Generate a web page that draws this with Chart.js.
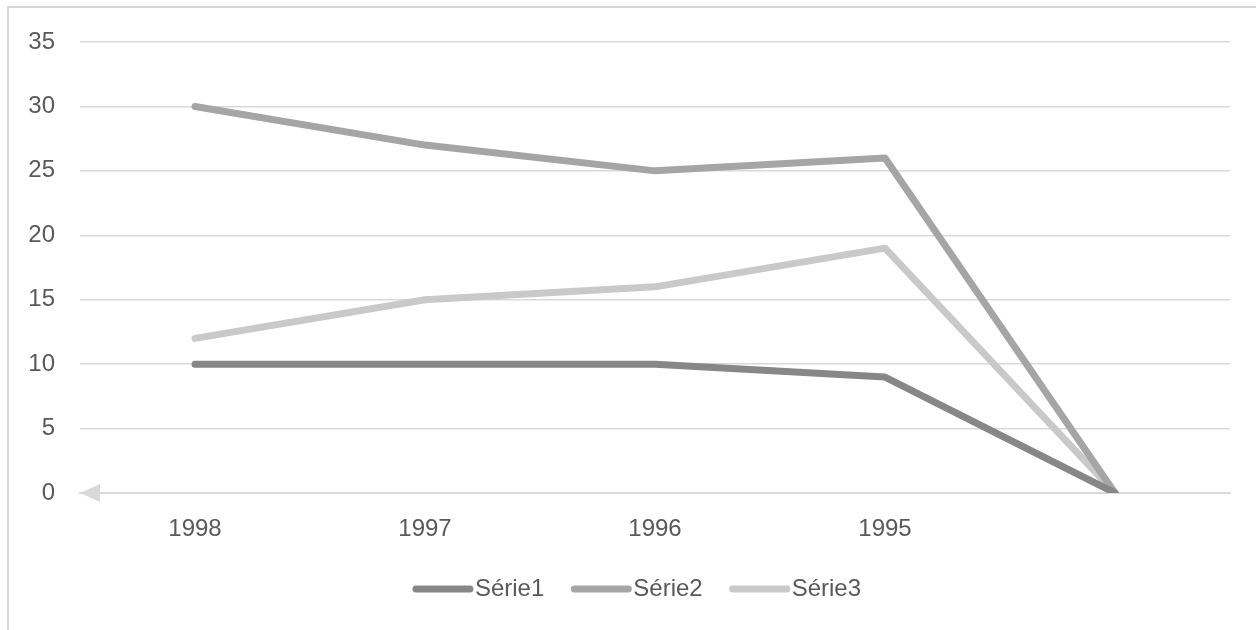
<!DOCTYPE html>
<html>
<head>
<meta charset="utf-8">
<script src="https://cdn.jsdelivr.net/npm/chart.js@4/dist/chart.umd.min.js"></script>
<style>
  html, body { margin: 0; padding: 0; background: #ffffff; overflow: hidden; }
  #wrap { position: relative; width: 1256px; height: 630px; }
</style>
</head>
<body>
<div id="wrap"><canvas id="chart" width="1256" height="630"></canvas></div>
<script>
// Categories (the last slot is unlabeled, every series falls to 0 there)
const categories = ['1998', '1997', '1996', '1995', ''];

// Series values
const serie1 = [10, 10, 10, 9, 0];
const serie2 = [30, 27, 25, 26, 0];
const serie3 = [12, 15, 16, 19, 0];

const seriesNames = ['Série1', 'Série2', 'Série3'];
const seriesColors = ['#878787', '#a5a5a5', '#c9c9c9'];

// Y axis range
const yMin = 0;
const yMax = 35;
const yStep = 5;

const FONT = "'Liberation Sans', Arial, sans-serif";
const TEXT_COLOR = '#595959';
const LINE_GREY = '#d9d9d9';

// Frame around the chart (left and top edges are visible)
const framePlugin = {
  id: 'frame',
  beforeDraw(chart) {
    const ctx = chart.ctx;
    ctx.save();
    ctx.strokeStyle = LINE_GREY;
    ctx.lineWidth = 2;
    ctx.beginPath();
    ctx.moveTo(8, chart.height + 5);
    ctx.lineTo(8, 7);
    ctx.lineTo(chart.width + 5, 7);
    ctx.stroke();
    ctx.restore();
  }
};

// Arrow head at the left end of the category axis
const arrowPlugin = {
  id: 'axisArrow',
  afterDatasetsDraw(chart) {
    const ctx = chart.ctx;
    const y = chart.scales.y.getPixelForValue(0);
    const x = chart.chartArea.left;
    ctx.save();
    ctx.fillStyle = LINE_GREY;
    ctx.beginPath();
    ctx.moveTo(x, y);
    ctx.lineTo(x + 20, y - 9);
    ctx.lineTo(x + 20, y + 9);
    ctx.closePath();
    ctx.fill();
    ctx.restore();
  }
};

// Legend drawn below the axis: a thick line sample followed by the series name
const legendPlugin = {
  id: 'lineLegend',
  afterDraw(chart) {
    const ctx = chart.ctx;
    const sample = 60, gap = 2, itemGap = 27;
    ctx.save();
    ctx.font = '24px ' + FONT;
    const widths = chart.data.datasets.map(d => ctx.measureText(d.label).width);
    const total = widths.reduce((s, w) => s + sample + gap + w, 0) + itemGap * (widths.length - 1);
    let x = chart.width / 2 + 9 - total / 2;
    const y = 589;
    chart.data.datasets.forEach((d, i) => {
      ctx.strokeStyle = d.borderColor;
      ctx.lineWidth = 7;
      ctx.lineCap = 'round';
      ctx.beginPath();
      ctx.moveTo(x + 3, y);
      ctx.lineTo(x + sample - 3, y);
      ctx.stroke();
      ctx.fillStyle = TEXT_COLOR;
      ctx.textBaseline = 'middle';
      ctx.textAlign = 'left';
      ctx.fillText(d.label, x + sample + gap, y);
      x += sample + gap + widths[i] + itemGap;
    });
    ctx.restore();
  }
};

const seriesData = [serie1, serie2, serie3];

new Chart(document.getElementById('chart'), {
  type: 'line',
  data: {
    labels: categories,
    datasets: seriesData.map((vals, i) => ({
      label: seriesNames[i],
      data: vals,
      borderColor: seriesColors[i],
      backgroundColor: seriesColors[i],
      borderWidth: 7,
      borderCapStyle: 'round',
      borderJoinStyle: 'round',
      pointRadius: 0,
      pointHoverRadius: 0,
      tension: 0,
      fill: false
    }))
  },
  options: {
    responsive: false,
    animation: false,
    events: [],
    layout: { padding: { left: 0, right: 26, top: 42, bottom: 0 } },
    plugins: {
      legend: { display: false },
      tooltip: { enabled: false }
    },
    scales: {
      x: {
        type: 'category',
        offset: true,
        grid: { display: false, drawTicks: false },
        border: { display: true, color: LINE_GREY, width: 2 },
        ticks: {
          color: TEXT_COLOR,
          font: { family: FONT, size: 24 },
          padding: 22,
          maxRotation: 0,
          autoSkip: false
        },
        afterFit(scale) { scale.height = 137; }
      },
      y: {
        min: yMin,
        max: yMax,
        grid: { color: LINE_GREY, lineWidth: 1.5, drawTicks: false },
        border: { display: false },
        ticks: {
          stepSize: yStep,
          color: TEXT_COLOR,
          font: { family: FONT, size: 24 },
          padding: 25
        },
        afterFit(scale) { scale.width = 80; }
      }
    }
  },
  plugins: [framePlugin, arrowPlugin, legendPlugin]
});
</script>
</body>
</html>
